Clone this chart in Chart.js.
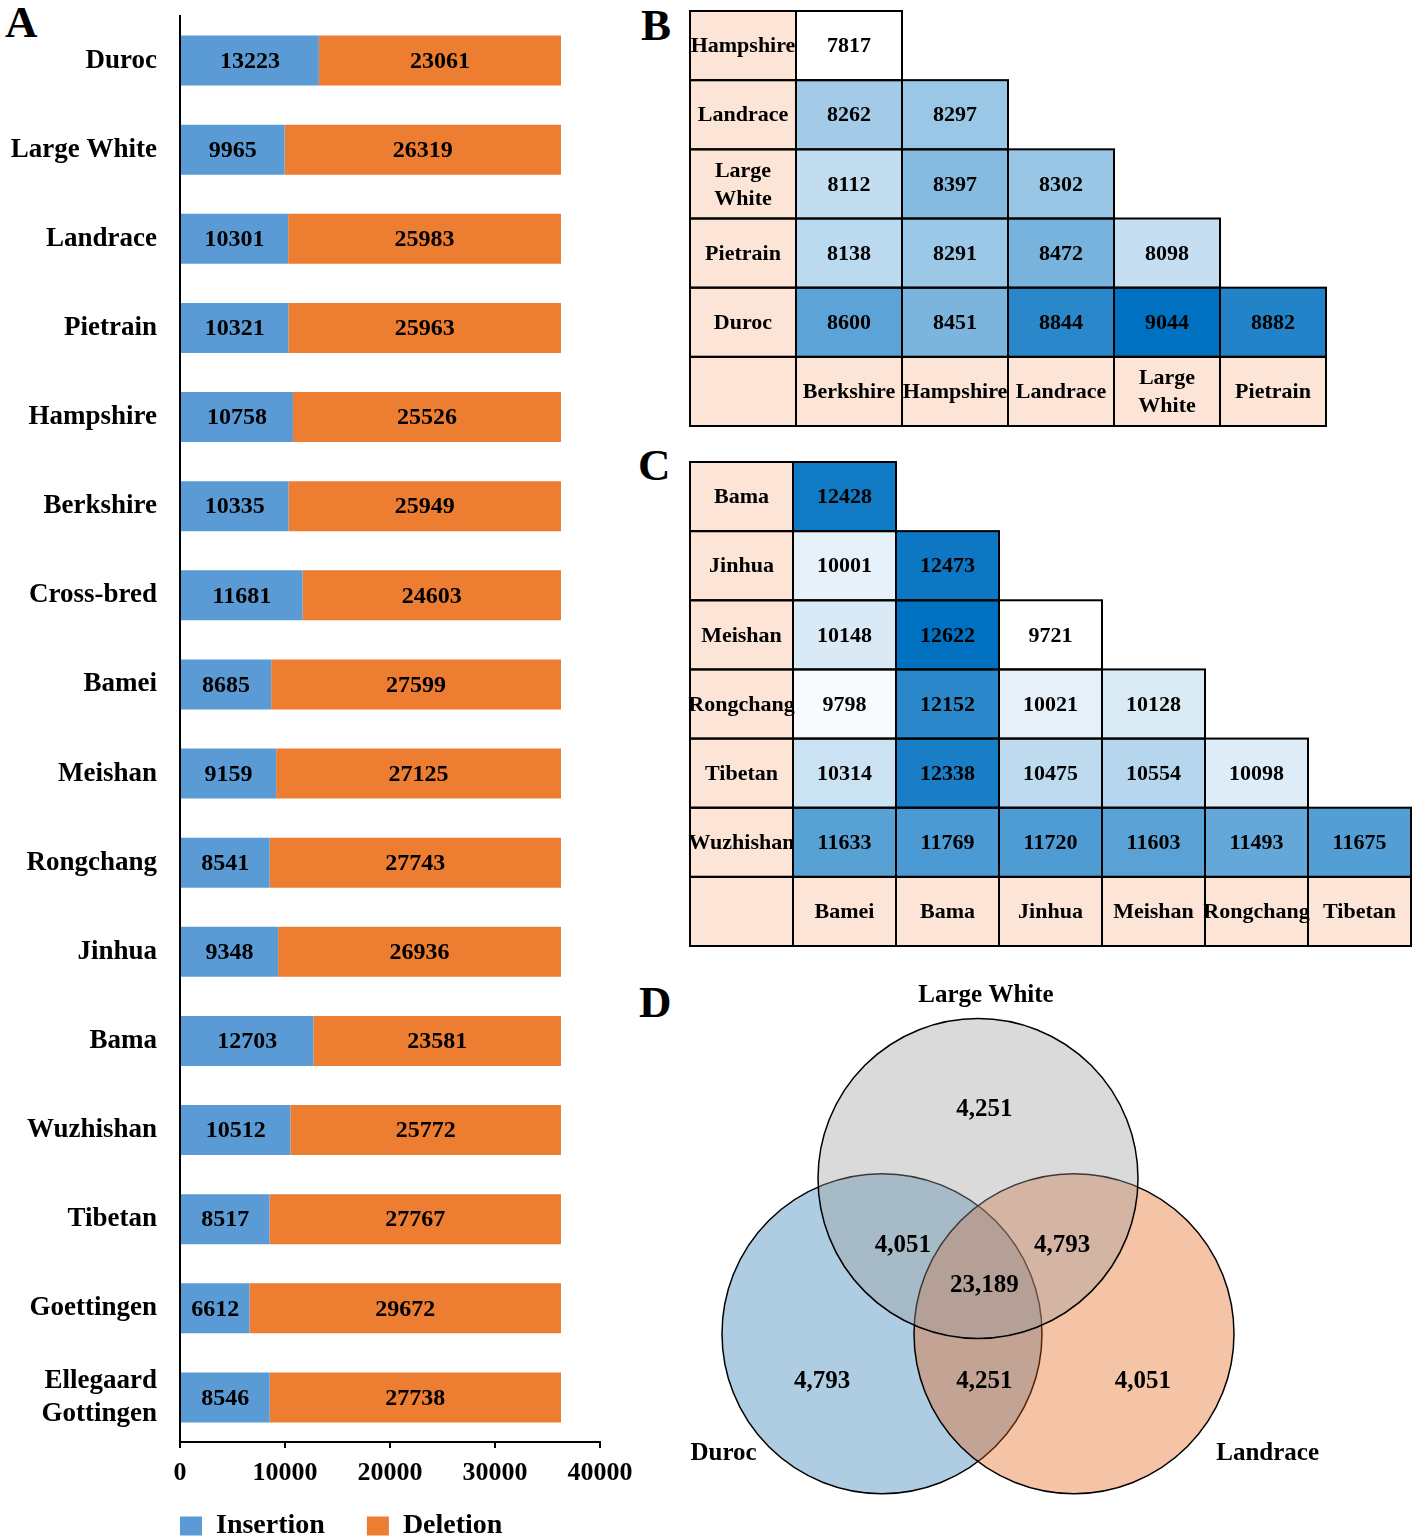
<!DOCTYPE html>
<html>
<head>
<meta charset="utf-8">
<script src="https://cdn.jsdelivr.net/npm/chart.js@4.4.0/dist/chart.umd.min.js"></script>
<style>
html, body { margin: 0; padding: 0; background: #fff; width: 1418px; height: 1538px; overflow: hidden; }
canvas { position: absolute; }
.tag { position: absolute; font: bold 45px 'Liberation Serif', 'Times New Roman', serif; line-height: 1; color: #000; }
</style>
</head>
<body>
<div class="tag" style="left:5px;top:0px">A</div>
<div class="tag" style="left:641px;top:3px">B</div>
<div class="tag" style="left:638px;top:443px">C</div>
<div class="tag" style="left:639px;top:980px">D</div>

<canvas id="barA" width="680" height="1550" style="left:0;top:0"></canvas>
<canvas id="heatB" width="644" height="423" style="left:686px;top:7px"></canvas>
<canvas id="heatC" width="729" height="492" style="left:686px;top:458px"></canvas>
<canvas id="venn" width="880" height="600" style="left:538px;top:982px"></canvas>

<script>
// ---- data ----
// A: insertions / deletions per breed
var breeds = ['Duroc', 'Large White', 'Landrace', 'Pietrain', 'Hampshire', 'Berkshire', 'Cross-bred', 'Bamei',
  'Meishan', 'Rongchang', 'Jinhua', 'Bama', 'Wuzhishan', 'Tibetan', 'Goettingen', 'Ellegaard Gottingen'];
var insertions = [13223, 9965, 10301, 10321, 10758, 10335, 11681, 8685, 9159, 8541, 9348, 12703, 10512, 8517, 6612, 8546];
var deletions = [23061, 26319, 25983, 25963, 25526, 25949, 24603, 27599, 27125, 27743, 26936, 23581, 25772, 27767, 29672, 27738];
var xTicks = [0, 10000, 20000, 30000, 40000];

// B: western breeds, pairwise shared counts (lower triangle)
var rowsB = ['Hampshire', 'Landrace', 'Large White', 'Pietrain', 'Duroc'];
var colsB = ['Berkshire', 'Hampshire', 'Landrace', 'Large White', 'Pietrain'];
var valuesB = [
  [7817],
  [8262, 8297],
  [8112, 8397, 8302],
  [8138, 8291, 8472, 8098],
  [8600, 8451, 8844, 9044, 8882]
];

// C: chinese breeds
var rowsC = ['Bama', 'Jinhua', 'Meishan', 'Rongchang', 'Tibetan', 'Wuzhishan'];
var colsC = ['Bamei', 'Bama', 'Jinhua', 'Meishan', 'Rongchang', 'Tibetan'];
var valuesC = [
  [12428],
  [10001, 12473],
  [10148, 12622, 9721],
  [9798, 12152, 10021, 10128],
  [10314, 12338, 10475, 10554, 10098],
  [11633, 11769, 11720, 11603, 11493, 11675]
];

// D: venn
var vennSets = ['Large White', 'Duroc', 'Landrace'];
var vennRegions = ['Large White', 'Duroc', 'Landrace', 'Large White & Duroc', 'Large White & Landrace', 'Duroc & Landrace', 'All'];
var vennCounts = [4251, 4793, 4051, 4051, 4793, 4251, 23189];

// ---- styling / layout ----
var SERIF = "'Liberation Serif', 'Times New Roman', serif";
var BLUE = '#5B9BD5', ORANGE = '#ED7D31', PINK = '#FCE4D6';
Chart.defaults.font.family = SERIF;
Chart.defaults.color = '#000';

// venn geometry in circle-radius units around the centroid
var vennCentres = [[0, 0.647], [-0.6, -0.323], [0.6, -0.323]];
var vennNameAt = [[0.05, 1.79], [-1.59, -1.075], [1.81, -1.075]];
var vennCountAt = [[0.04, 1.08], [-0.975, -0.62], [1.03, -0.62], [-0.47, 0.23], [0.525, 0.23], [0.04, -0.62], [0.04, -0.02]];
var vennFill = ['rgba(155,155,155,0.37)', 'rgba(36,120,179,0.37)', 'rgba(228,93,14,0.37)'];
var vennOrder = [1, 3, 2]; // Duroc at the bottom, Large White on top

// ---- A: stacked horizontal bars ----
var barLabels = {
  id: 'barLabels',
  afterDatasetsDraw(chart) {
    var ctx = chart.ctx;
    ctx.save();
    ctx.font = 'bold 24px ' + SERIF;
    ctx.fillStyle = '#000';
    ctx.textAlign = 'center';
    ctx.textBaseline = 'middle';
    chart.data.datasets.forEach(function (ds, di) {
      chart.getDatasetMeta(di).data.forEach(function (bar, i) {
        var p = bar.getCenterPoint();
        ctx.fillText(String(ds.data[i]), p.x, p.y + 1);
      });
    });
    ctx.restore();
  }
};

new Chart(document.getElementById('barA'), {
  type: 'bar',
  data: {
    labels: breeds.map(function (b) { return b.length > 12 ? b.split(' ') : b; }),
    datasets: [
      { label: 'Insertion', data: insertions, backgroundColor: BLUE },
      { label: 'Deletion', data: deletions, backgroundColor: ORANGE }
    ]
  },
  options: {
    indexAxis: 'y',
    responsive: false,
    animation: false,
    events: [],
    barPercentage: 0.56,
    categoryPercentage: 1,
    layout: { padding: { left: 0, right: 80, top: 16, bottom: 0 } },
    scales: {
      x: {
        stacked: true, min: 0, max: 40000,
        afterBuildTicks: function (s) { s.ticks = xTicks.map(function (v) { return { value: v }; }); },
        afterFit: function (s) { s.height = 70; },
        grid: { drawOnChartArea: false, drawTicks: true, tickLength: 6, color: '#000', lineWidth: 2 },
        border: { display: true, color: '#000', width: 2 },
        ticks: {
          font: { size: 26, weight: 'bold' }, color: '#000', padding: 10, maxRotation: 0,
          callback: function (v) { return String(v); }
        }
      },
      y: {
        stacked: true,
        afterFit: function (s) { s.width = 180; s.paddingTop = 0; s.paddingBottom = 0; },
        grid: { display: false },
        border: { display: true, color: '#000', width: 2 },
        ticks: { font: { size: 27, weight: 'bold' }, color: '#000', padding: 15, autoSkip: false }
      }
    },
    plugins: {
      tooltip: { enabled: false },
      legend: {
        position: 'bottom',
        fullSize: false,
        align: 'start',
        labels: {
          font: { size: 28, weight: 'bold' }, color: '#000', boxWidth: 22, boxHeight: 19, padding: 0,
          generateLabels: function (chart) {
            var items = Chart.defaults.plugins.legend.labels.generateLabels(chart);
            // widen the first entry so the second starts where it does in the figure
            items[0].text += '      ';
            return items;
          }
        }
      }
    }
  },
  plugins: [barLabels]
});

// ---- B, C: triangular heatmaps ----
function cellColor(v, lo, hi) {
  var t = (v - lo) / (hi - lo);
  return 'rgb(' + Math.round(255 - 255 * t) + ',' + Math.round(255 - 143 * t) + ',' + Math.round(255 - 63 * t) + ')';
}

var cellDraw = {
  id: 'cellDraw',
  afterDatasetsDraw(chart) {
    var ctx = chart.ctx;
    ctx.save();
    ctx.font = 'bold 22px ' + SERIF;
    ctx.fillStyle = '#000';
    ctx.strokeStyle = '#000';
    ctx.lineWidth = 2;
    ctx.textAlign = 'center';
    ctx.textBaseline = 'middle';
    chart.data.datasets.forEach(function (ds, di) {
      chart.getDatasetMeta(di).data.forEach(function (bar, i) {
        if (ds.data[i] === null) return;
        var p = bar.getProps(['x', 'y', 'base', 'width'], true);
        var top = Math.min(p.y, p.base), h = Math.abs(p.base - p.y);
        ctx.strokeRect(p.x - p.width / 2, top, p.width, h);
        var txt = ds.cellText[i];
        if (!txt) return;
        var lines = (ctx.measureText(txt).width > p.width - 6 && txt.indexOf(' ') > 0) ? txt.split(' ') : [txt];
        var cy = top + h / 2 + 1 - (lines.length - 1) * 14;
        lines.forEach(function (ln, k) { ctx.fillText(ln, p.x, cy + k * 28); });
      });
    });
    ctx.restore();
  }
};

function makeHeatmap(id, rows, cols, values) {
  var flat = values.flat();
  var lo = Math.min.apply(null, flat), hi = Math.max.apply(null, flat);
  var xLabels = [''].concat(cols);
  var datasets = rows.map(function (name, r) {
    return {
      data: xLabels.map(function (_, c) { return (c === 0 || values[r][c - 1] !== undefined) ? [r, r + 1] : null; }),
      backgroundColor: xLabels.map(function (_, c) {
        if (c === 0) return PINK;
        return values[r][c - 1] !== undefined ? cellColor(values[r][c - 1], lo, hi) : 'rgba(0,0,0,0)';
      }),
      cellText: xLabels.map(function (_, c) {
        if (c === 0) return name;
        return values[r][c - 1] !== undefined ? String(values[r][c - 1]) : '';
      })
    };
  });
  // header row with column names
  datasets.push({
    data: xLabels.map(function () { return [rows.length, rows.length + 1]; }),
    backgroundColor: PINK,
    cellText: xLabels
  });
  datasets.forEach(function (d) {
    d.grouped = false; d.barPercentage = 1; d.categoryPercentage = 1; d.borderWidth = 0;
  });
  return new Chart(document.getElementById(id), {
    type: 'bar',
    data: { labels: xLabels, datasets: datasets },
    options: {
      responsive: false,
      animation: false,
      events: [],
      layout: { padding: 4 },
      scales: {
        x: { type: 'category', display: false, offset: true },
        y: { type: 'linear', display: false, min: 0, max: rows.length + 1, reverse: true }
      },
      plugins: { legend: { display: false }, tooltip: { enabled: false } }
    },
    plugins: [cellDraw]
  });
}

makeHeatmap('heatB', rowsB, colsB, valuesB);
makeHeatmap('heatC', rowsC, colsC, valuesC);

// ---- D: venn from scatter points sized by the x scale ----
function unitRadius(ctx) {
  var s = ctx.chart.scales.x;
  return Math.abs(s.getPixelForValue(1) - s.getPixelForValue(0));
}

var vennText = {
  id: 'vennText',
  afterDatasetsDraw(chart) {
    var ctx = chart.ctx, sx = chart.scales.x, sy = chart.scales.y;
    ctx.save();
    ctx.font = 'bold 25px ' + SERIF;
    ctx.fillStyle = '#000';
    ctx.textAlign = 'center';
    ctx.textBaseline = 'middle';
    vennSets.forEach(function (name, i) {
      ctx.fillText(name, sx.getPixelForValue(vennNameAt[i][0]), sy.getPixelForValue(vennNameAt[i][1]));
    });
    vennCounts.forEach(function (n, i) {
      ctx.fillText(n.toLocaleString('en-US'), sx.getPixelForValue(vennCountAt[i][0]), sy.getPixelForValue(vennCountAt[i][1]));
    });
    ctx.restore();
  }
};

new Chart(document.getElementById('venn'), {
  type: 'scatter',
  data: {
    datasets: vennSets.map(function (name, i) {
      return {
        label: name,
        data: [{ x: vennCentres[i][0], y: vennCentres[i][1] }],
        pointBackgroundColor: vennFill[i],
        pointBorderColor: '#000',
        pointBorderWidth: 1.5,
        pointRadius: unitRadius,
        clip: false,
        order: vennOrder[i]
      };
    })
  },
  options: {
    responsive: false,
    animation: false,
    events: [],
    layout: { padding: 0 },
    scales: {
      x: { type: 'linear', display: false, min: -2.75, max: 2.75 },
      y: { type: 'linear', display: false, min: -1.875, max: 1.875 }
    },
    plugins: { legend: { display: false }, tooltip: { enabled: false } }
  },
  plugins: [vennText]
});
</script>
</body>
</html>
